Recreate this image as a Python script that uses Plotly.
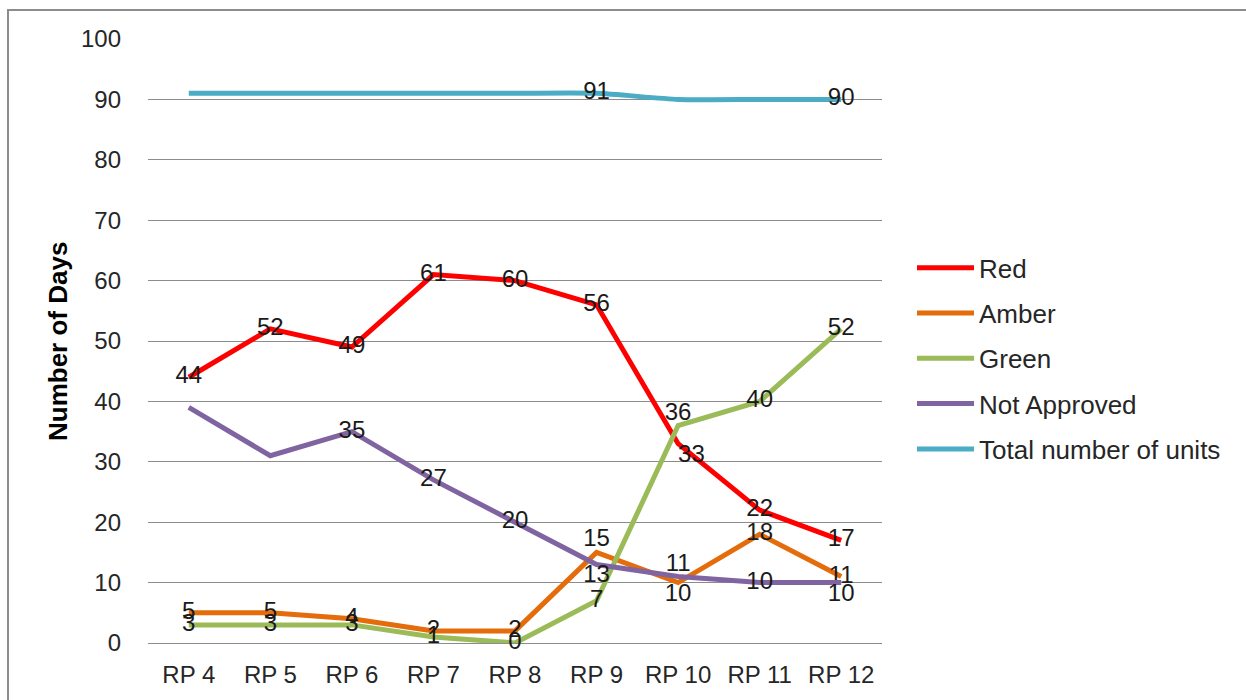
import plotly.graph_objects as go

categories = ["RP 4", "RP 5", "RP 6", "RP 7", "RP 8", "RP 9", "RP 10", "RP 11", "RP 12"]
red = [44, 52, 49, 61, 60, 56, 33, 22, 17]
amber = [5, 5, 4, 2, 2, 15, 10, 18, 11]
green = [3, 3, 3, 1, 0, 7, 36, 40, 52]
not_approved = [39, 31, 35, 27, 20, 13, 11, 10, 10]
total_units = [91, 91, 91, 91, 91, 91, 90, 90, 90]

# which data labels are shown (Excel chart hides some)
red_show = [True] * 9
amber_show = [True] * 9
green_show = [True] * 9
na_show = [False, False, True, True, True, True, True, True, True]
total_show = [False, False, False, False, False, True, False, False, True]

red_pos = ["middle center"] * 6 + ["bottom right", "middle center", "middle center"]
amber_pos = ["middle center"] * 5 + ["top center", "bottom center", "middle center", "middle center"]
green_pos = ["middle center"] * 6 + ["top center", "middle center", "middle center"]
na_pos = ["middle center"] * 5 + ["bottom center", "top center", "middle center", "bottom center"]
total_pos = ["middle center"] * 9

FONT = "Liberation Sans, Arial, sans-serif"

series = [
    ("Red", red, red_show, red_pos, "#FF0000", "linear"),
    ("Amber", amber, amber_show, amber_pos, "#E46C0A", "linear"),
    ("Green", green, green_show, green_pos, "#9BBB59", "linear"),
    ("Not Approved", not_approved, na_show, na_pos, "#8064A2", "linear"),
    ("Total number of units", total_units, total_show, total_pos, "#4BACC6", "spline"),
]

fig = go.Figure()
for i, (name, vals, show, pos, color, shape) in enumerate(series):
    fig.add_trace(go.Scatter(
        x=categories, y=vals, name=name, mode="lines+text",
        text=[str(v) if s else "" for v, s in zip(vals, show)],
        textposition=pos,
        textfont=dict(family=FONT, size=24, color="#1a1a1a"),
        line=dict(color=color, width=5, shape=shape, smoothing=0.6),
        legendgroup=f"g{i}",
        cliponaxis=False,
    ))

W, H = 1246, 700
L, R, T, B = 148, 364, 39, 55
pw, ph = W - L - R, H - T - B

fig.update_layout(
    width=W, height=H,
    margin=dict(l=L, r=R, t=T, b=B),
    paper_bgcolor="white", plot_bgcolor="white",
    font=dict(family=FONT, size=24, color="#262626"),
    showlegend=True,
    legend=dict(
        x=(912 - L) / pw, xanchor="left",
        y=1 - (245 - T) / ph, yanchor="top",
        traceorder="grouped", tracegroupgap=8.5,
        itemwidth=57,
        font=dict(family=FONT, size=26, color="#262626"),
        bgcolor="rgba(0,0,0,0)",
    ),
    xaxis=dict(
        type="category", range=[-0.5, 8.5],
        showgrid=False, showline=False, ticks="", zeroline=False,
        tickfont=dict(family=FONT, size=24, color="#262626"),
        ticklabelstandoff=15,
    ),
    yaxis=dict(
        range=[0, 100], dtick=10, tick0=0,
        showgrid=True, gridcolor="#8C8C8C", gridwidth=1.3,
        zeroline=True, zerolinecolor="#8C8C8C", zerolinewidth=1.3,
        showline=False, ticks="",
        tickfont=dict(family=FONT, size=24, color="#262626"),
        ticklabelstandoff=26,
    ),
    annotations=[dict(
        text="<b>Number of Days</b>", textangle=-90,
        xref="paper", yref="paper",
        x=(58 - L) / pw, y=1 - (343 - T) / ph,
        xanchor="center", yanchor="middle", showarrow=False,
        font=dict(family=FONT, size=26, color="#000000"),
    )],
    shapes=[dict(
        type="rect", xref="paper", yref="paper",
        x0=(8 - L) / pw, x1=2.0, y0=-1.0, y1=1 + (T - 10) / ph,
        line=dict(color="#8C8C8C", width=2), fillcolor="rgba(0,0,0,0)",
        layer="below",
    )],
)

fig.write_html("out.html")
